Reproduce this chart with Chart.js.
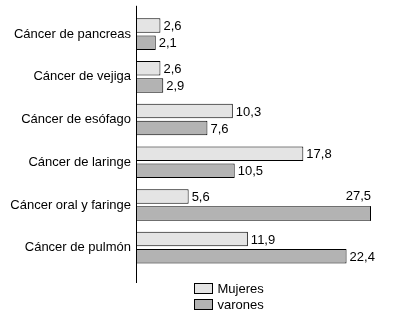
<!DOCTYPE html>
<html><head><meta charset="utf-8">
<script src="https://cdn.jsdelivr.net/npm/chart.js@4/dist/chart.umd.min.js"></script>
<style>html,body{margin:0;padding:0;background:#fff;}canvas{display:block;}</style>
</head><body>
<canvas id="c" width="395" height="318"></canvas>
<script>
const categories = ["Cáncer de pancreas","Cáncer de vejiga","Cáncer de esófago","Cáncer de laringe","Cáncer oral y faringe","Cáncer de pulmón"];
const seriesNames = ["Mujeres","varones"];
const mujeres = [2.6, 2.6, 10.3, 17.8, 5.6, 11.9];
const varones = [2.1, 2.9, 7.6, 10.5, 27.5, 22.4];
const xMin = 0, xMax = 25;

const FONT = "'Liberation Sans', Arial, sans-serif";
const fmt = v => v.toFixed(1).replace('.', ',');

const decor = {
  id: 'decor',
  afterDatasetsDraw(chart) {
    const ctx = chart.ctx, ca = chart.chartArea, xs = chart.scales.x;
    ctx.save();
    // axis line
    ctx.strokeStyle = '#000'; ctx.lineWidth = 1;
    ctx.beginPath();
    ctx.moveTo(Math.round(ca.left) + 0.5, ca.top - 7);
    ctx.lineTo(Math.round(ca.left) + 0.5, ca.bottom + 14);
    ctx.stroke();
    // value labels
    ctx.font = '13px ' + FONT;
    ctx.fillStyle = '#000';
    chart.data.datasets.forEach((ds, di) => {
      const meta = chart.getDatasetMeta(di);
      meta.data.forEach((bar, i) => {
        const v = ds.data[i];
        const txt = fmt(v);
        if (v > xs.max) {
          // clipped bar: close its right edge, label above
          const h = bar.height;
          ctx.beginPath();
          ctx.moveTo(ca.right - 0.5, bar.y - h / 2);
          ctx.lineTo(ca.right - 0.5, bar.y + h / 2);
          ctx.stroke();
          ctx.textAlign = 'right'; ctx.textBaseline = 'bottom';
          ctx.fillText(txt, ca.right, bar.y - h / 2 - 3);
        } else {
          ctx.textAlign = 'left'; ctx.textBaseline = 'middle';
          ctx.fillText(txt, bar.x + 3, bar.y + 1);
        }
      });
    });
    // legend
    chart.data.datasets.forEach((ds, di) => {
      const bx = Math.round(ca.left) + 58.5, by = Math.round(ca.bottom) + 14.5 + di * 16;
      ctx.fillStyle = ds.backgroundColor;
      ctx.fillRect(bx, by, 18, 10);
      ctx.strokeStyle = '#000';
      ctx.strokeRect(bx, by, 18, 10);
      ctx.fillStyle = '#000';
      ctx.textAlign = 'left'; ctx.textBaseline = 'middle';
      ctx.fillText(ds.label, bx + 23, by + 5.5);
    });
    ctx.restore();
  }
};

new Chart(document.getElementById('c'), {
  type: 'bar',
  data: {
    labels: categories,
    datasets: [
      { label: seriesNames[0], data: mujeres, backgroundColor: '#e4e4e4', borderColor: '#000', borderWidth: 1, borderSkipped: false },
      { label: seriesNames[1], data: varones, backgroundColor: '#b3b3b3', borderColor: '#000', borderWidth: 1, borderSkipped: false }
    ]
  },
  options: {
    indexAxis: 'y',
    responsive: false,
    animation: false,
    devicePixelRatio: 1,
    barPercentage: 0.85,
    categoryPercentage: 0.8,
    layout: { padding: { top: 12, bottom: 49, left: 0, right: 24 } },
    scales: {
      x: { display: false, min: xMin, max: xMax },
      y: {
        grid: { display: false, drawTicks: false },
        border: { display: false },
        ticks: { color: '#000', padding: 5, font: { family: FONT, size: 13 } },
        afterFit(scale) { scale.width = 136; }
      }
    },
    plugins: { legend: { display: false }, tooltip: { enabled: false } }
  },
  plugins: [decor]
});
</script>
</body></html>
